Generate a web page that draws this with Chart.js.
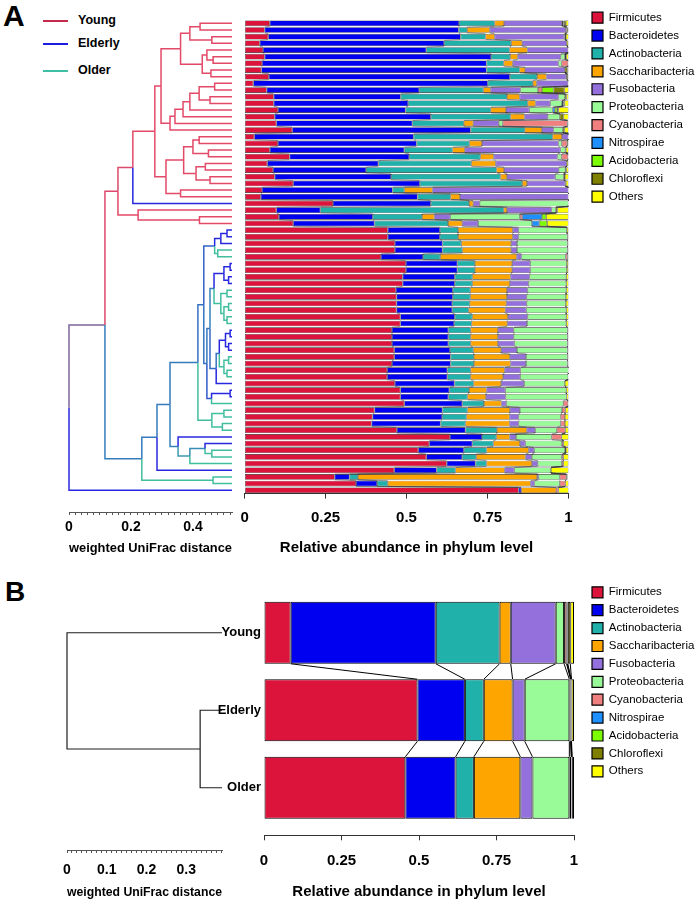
<!DOCTYPE html>
<html>
<head>
<meta charset="utf-8">
<script src="https://cdn.jsdelivr.net/npm/chart.js@4.4.1/dist/chart.umd.min.js"></script>
<style>
	body { margin: 0; background: #fff; font-family: 'Liberation Sans', Arial, sans-serif; }
	#page { position: relative; width: 700px; height: 904px; overflow: hidden; }
	canvas { position: absolute; }
	.panel { position: absolute; font-weight: bold; color: #000; }
	.key { position: absolute; left: 43px; height: 14px; line-height: 14px; font-size: 12.5px; font-weight: bold; color: #000; white-space: nowrap; }
	.key span { display: inline-block; width: 25px; height: 2px; vertical-align: middle; margin-right: 10px; }
</style>
</head>
<body>
<div id="page">
	<div class="panel" style="left:3px;top:1px;font-size:30px;line-height:30px">A</div>
	<div class="key" style="top:13px"><span style="background:#c42a4c"></span>Young</div>
	<div class="key" style="top:36px"><span style="background:#1c1ce0"></span>Elderly</div>
	<div class="key" style="top:63px"><span style="background:#3fc0a4"></span>Older</div>
	<canvas id="treeA" width="240" height="560" style="left:0;top:0"></canvas>
	<canvas id="barA" width="470" height="560" style="left:230px;top:0"></canvas>
	<div class="panel" style="left:5px;top:578px;font-size:28px;line-height:28px">B</div>
	<canvas id="treeB" width="262" height="344" style="left:0;top:560px"></canvas>
	<canvas id="barB" width="500" height="344" style="left:200px;top:560px"></canvas>
</div>
<script>
// Phyla, in stacking order.
const phyla = [ 'Firmicutes', 'Bacteroidetes', 'Actinobacteria', 'Saccharibacteria', 'Fusobacteria',
	'Proteobacteria', 'Cyanobacteria', 'Nitrospirae', 'Acidobacteria', 'Chloroflexi', 'Others' ];
const phylumColors = [ '#dc143c', '#0000f0', '#20b2aa', '#ffa500', '#9370db',
	'#98fb98', '#f08080', '#1e90ff', '#7cfc00', '#808000', '#ffff00' ];

const groupNames = [ 'Young', 'Elderly', 'Older' ];
const groupRgb = { Y: [ 226, 74, 104 ], E: [ 40, 40, 225 ], O: [ 64, 190, 160 ] };

// Panel A: group of each sample, top to bottom (Y = Young, E = Elderly, O = Older).
const groupsA = [
	'Y', 'Y', 'Y', 'Y', 'Y', 'Y', 'Y', 'Y', 'Y', 'Y',
	'Y', 'Y', 'Y', 'Y', 'Y', 'Y', 'Y', 'Y', 'Y', 'Y',
	'Y', 'Y', 'Y', 'Y', 'Y', 'Y', 'Y', 'E', 'Y', 'Y',
	'Y', 'E', 'E', 'E', 'O', 'O', 'E', 'E', 'E', 'E',
	'O', 'O', 'O', 'O', 'O', 'O', 'E', 'E', 'E', 'E',
	'O', 'O', 'O', 'O', 'E', 'E', 'E', 'O', 'O', 'O',
	'O', 'O', 'E', 'E', 'O', 'O', 'O', 'E', 'O', 'O',
	'E' ];

// Panel A clustering: [distance from root, left, right]; plain numbers are samples.
const treeA =
	[ 0,
		[ 0.116,
			[ 0.158,
				[ 0.206,
					[ 0.277,
						[ 0.297,
							[ 0.36,
								[ 0.39, [ 0.423, 0, 1 ], [ 0.461, 2, 3 ] ],
								[ 0.43, [ 0.445, 4, [ 0.465, 5, 6 ] ], [ 0.458, 7, 8 ] ] ],
							[ 0.326, [ 0.342, [ 0.368, [ 0.39, [ 0.42, [ 0.47, 9, 10 ], [ 0.455, 11, 12 ] ], 13 ], 14 ], 15 ], 16 ] ],
						[ 0.313,
							[ 0.37, [ 0.4, [ 0.42, 17, 18 ], [ 0.45, 19, 20 ] ], [ 0.41, [ 0.44, 21, 22 ], [ 0.455, 23, 24 ] ] ],
							[ 0.36, 25, 26 ] ] ],
					27 ],
				[ 0.223, 28, [ 0.421, 29, 30 ] ] ],
			[ 0.235,
				[ 0.284,
					[ 0.326,
						[ 0.416,
							[ 0.435,
								[ 0.47, [ 0.49, [ 0.51, 31, 32 ], 33 ], [ 0.48, 34, 35 ] ],
								[ 0.445,
									[ 0.455,
										[ 0.468, [ 0.5, [ 0.52, 36, 37 ], [ 0.515, 38, 39 ] ], [ 0.49, [ 0.51, 40, 41 ], [ 0.5, [ 0.515, 42, 43 ], [ 0.51, 44, 45 ] ] ] ],
										[ 0.475, [ 0.485, [ 0.505, [ 0.52, 46, 47 ], [ 0.515, 48, 49 ] ], [ 0.5, [ 0.515, 50, 51 ], [ 0.51, 52, 53 ] ] ], 54 ] ],
									[ 0.46, [ 0.52, 55, 56 ], 57 ] ] ],
							[ 0.461, [ 0.5, 58, 59 ], [ 0.495, 60, 61 ] ] ],
						[ 0.352, 62, [ 0.39, [ 0.439, 63, [ 0.461, 64, 65 ] ], 66 ] ] ],
					67 ],
				[ 0.465, 68, 69 ] ] ],
		70 ];
const treeLeafA = 0.526;

// Panel A relative abundance per sample.
const firmicutesA = [
	0.078, 0.062, 0.073, 0.047, 0.057, 0.062, 0.054, 0.052, 0.075, 0.027,
	0.068, 0.090, 0.090, 0.103, 0.093, 0.098, 0.147, 0.030, 0.103, 0.078,
	0.139, 0.070, 0.088, 0.093, 0.150, 0.054, 0.050, 0.273, 0.098, 0.106,
	0.150, 0.442, 0.442, 0.464, 0.464, 0.421, 0.498, 0.498, 0.488, 0.488,
	0.467, 0.469, 0.469, 0.469, 0.481, 0.481, 0.455, 0.455, 0.455, 0.462,
	0.462, 0.455, 0.440, 0.440, 0.464, 0.481, 0.481, 0.493, 0.401, 0.395,
	0.392, 0.470, 0.634, 0.570, 0.536, 0.561, 0.624, 0.462, 0.278, 0.344,
	0.846 ];
const bacteroidetesA = [
	0.584, 0.599, 0.594, 0.569, 0.504, 0.699, 0.693, 0.695, 0.744, 0.724,
	0.471, 0.392, 0.415, 0.394, 0.482, 0.420, 0.551, 0.492, 0.428, 0.415,
	0.369, 0.343, 0.287, 0.359, 0.391, 0.403, 0.484, 0.302, 0.136, 0.290,
	0.251, 0.161, 0.161, 0.147, 0.147, 0.130, 0.159, 0.159, 0.161, 0.161,
	0.176, 0.174, 0.172, 0.172, 0.168, 0.166, 0.174, 0.174, 0.174, 0.172,
	0.174, 0.181, 0.186, 0.186, 0.184, 0.151, 0.148, 0.179, 0.210, 0.215,
	0.213, 0.212, 0.099, 0.133, 0.141, 0.111, 0.089, 0.131, 0.046, 0.065,
	0.008 ];
const actinobacteriaA = [
	0.110, 0.026, 0.077, 0.207, 0.257, 0.059, 0.053, 0.102, 0.084, 0.139,
	0.198, 0.328, 0.369, 0.263, 0.246, 0.159, 0.167, 0.429, 0.163, 0.149,
	0.220, 0.287, 0.403, 0.338, 0.316, 0.036, 0.102, 0.118, 0.566, 0.152,
	0.227, 0.056, 0.056, 0.058, 0.061, 0.053, 0.054, 0.054, 0.054, 0.054,
	0.054, 0.054, 0.054, 0.051, 0.054, 0.054, 0.069, 0.069, 0.069, 0.072,
	0.072, 0.072, 0.072, 0.072, 0.059, 0.061, 0.059, 0.067, 0.077, 0.075,
	0.077, 0.097, 0.044, 0.065, 0.070, 0.043, 0.034, 0.058, 0.026, 0.033,
	0 ];
const saccharibacteriaA = [
	0.029, 0.070, 0.028, 0.034, 0.055, 0.023, 0.028, 0.017, 0.029, 0.012,
	0.023, 0.039, 0.024, 0.047, 0.043, 0.029, 0.053, 0.029, 0.039, 0.038,
	0.041, 0.075, 0.023, 0.020, 0.015, 0.087, 0.029, 0.013, 0.010, 0.038,
	0.044, 0.169, 0.169, 0.154, 0.151, 0.236, 0.115, 0.115, 0.118, 0.116,
	0.113, 0.113, 0.113, 0.113, 0.110, 0.110, 0.084, 0.084, 0.084, 0.086,
	0.111, 0.113, 0.105, 0.100, 0.085, 0.054, 0.057, 0.054, 0.131, 0.133,
	0.136, 0.092, 0.041, 0.082, 0.130, 0.152, 0.140, 0.152, 0.553, 0.441,
	0.108 ];
const fusobacteriaA = [
	0.179, 0.235, 0.215, 0.138, 0.126, 0.133, 0.141, 0.123, 0.061, 0.097,
	0.092, 0.120, 0.046, 0.072, 0.072, 0.079, 0.036, 0.020, 0.236, 0.295,
	0.197, 0.220, 0.169, 0.149, 0.118, 0.420, 0.335, 0.020, 0.138, 0.049,
	0.049, 0.018, 0.018, 0.018, 0.018, 0.015, 0.056, 0.056, 0.059, 0.058,
	0.064, 0.061, 0.063, 0.065, 0.061, 0.061, 0.049, 0.049, 0.051, 0.049,
	0.050, 0.048, 0.049, 0.053, 0.071, 0.058, 0.061, 0.015, 0.031, 0.028,
	0.028, 0.026, 0.020, 0.017, 0.017, 0.020, 0.018, 0.030, 0.005, 0.012,
	0 ];
const proteobacteriaA = [
	0.004, 0.002, 0.002, 0, 0, 0.013, 0.010, 0, 0.003, 0,
	0.054, 0.020, 0.036, 0.072, 0.037, 0.012, 0.029, 0, 0.010, 0.015,
	0.013, 0, 0.020, 0.026, 0, 0, 0, 0.274, 0.013, 0.215,
	0.166, 0.149, 0.151, 0.156, 0.156, 0.136, 0.113, 0.113, 0.113, 0.116,
	0.119, 0.121, 0.121, 0.123, 0.119, 0.121, 0.166, 0.166, 0.164, 0.156,
	0.128, 0.128, 0.148, 0.148, 0.126, 0.188, 0.188, 0.176, 0.130, 0.130,
	0.130, 0.067, 0.110, 0.113, 0.095, 0.092, 0.074, 0.113, 0.065, 0.078,
	0 ];
const cyanobacteriaA = [
	0.002, 0, 0, 0, 0, 0, 0.020, 0, 0, 0,
	0.012, 0, 0, 0, 0, 0.200, 0, 0, 0.017, 0,
	0.020, 0, 0, 0, 0, 0, 0, 0, 0, 0.007,
	0, 0, 0, 0, 0, 0.006, 0, 0, 0, 0,
	0, 0, 0, 0, 0, 0, 0, 0, 0, 0,
	0, 0, 0, 0, 0, 0, 0, 0.015, 0.010, 0.013,
	0.013, 0.026, 0.031, 0.005, 0.003, 0.005, 0.005, 0, 0.020, 0.017,
	0.007 ];
const nitrospiraeA = [
	0, 0, 0, 0, 0, 0, 0, 0, 0, 0,
	0, 0, 0.004, 0.007, 0, 0, 0, 0, 0, 0,
	0, 0, 0, 0, 0, 0, 0, 0, 0, 0.061,
	0.023, 0, 0, 0, 0, 0, 0, 0, 0, 0,
	0, 0, 0, 0, 0, 0, 0, 0, 0, 0,
	0, 0, 0, 0, 0, 0, 0, 0, 0, 0,
	0, 0, 0, 0, 0, 0, 0, 0, 0, 0,
	0 ];
const acidobacteriaA = [
	0, 0, 0, 0, 0, 0, 0, 0, 0, 0,
	0.036, 0, 0, 0.007, 0, 0, 0, 0, 0, 0,
	0, 0, 0, 0, 0, 0, 0, 0, 0, 0.013,
	0.024, 0, 0, 0, 0, 0, 0, 0, 0, 0,
	0, 0, 0, 0, 0, 0, 0, 0, 0, 0,
	0, 0, 0, 0, 0, 0, 0, 0, 0, 0,
	0, 0, 0, 0, 0, 0, 0, 0, 0, 0,
	0 ];
const chloroflexiA = [
	0.006, 0.002, 0.003, 0, 0, 0.004, 0, 0.008, 0, 0,
	0.033, 0.005, 0.004, 0.004, 0.012, 0, 0.005, 0, 0, 0.002,
	0, 0, 0.003, 0.004, 0.002, 0, 0, 0, 0.005, 0,
	0, 0, 0, 0, 0, 0, 0, 0, 0, 0,
	0, 0, 0, 0, 0, 0, 0, 0, 0, 0,
	0, 0, 0, 0, 0, 0, 0, 0, 0, 0,
	0, 0, 0, 0, 0, 0, 0, 0, 0, 0,
	0 ];
const othersA = [
	0.008, 0.004, 0.008, 0.005, 0.001, 0.007, 0.001, 0.003, 0.004, 0.001,
	0.013, 0.006, 0.012, 0.031, 0.015, 0.003, 0.012, 0, 0.004, 0.008,
	0.001, 0.005, 0.007, 0.011, 0.008, 0, 0, 0, 0.034, 0.069,
	0.066, 0.005, 0.003, 0.003, 0.003, 0.003, 0.005, 0.005, 0.007, 0.007,
	0.007, 0.008, 0.008, 0.007, 0.007, 0.007, 0.003, 0.003, 0.003, 0.003,
	0.003, 0.003, 0, 0.001, 0.011, 0.007, 0.006, 0.001, 0.010, 0.011,
	0.011, 0.010, 0.021, 0.015, 0.008, 0.016, 0.016, 0.054, 0.004, 0.010,
	0.031 ];
const seriesA = [ firmicutesA, bacteroidetesA, actinobacteriaA, saccharibacteriaA, fusobacteriaA,
	proteobacteriaA, cyanobacteriaA, nitrospiraeA, acidobacteriaA, chloroflexiA, othersA ];

// Panel B: mean abundance per group, in phyla order.
const youngB = [ 0.086, 0.468, 0.206, 0.036, 0.145, 0.027, 0.008, 0.002, 0.002, 0.008, 0.012 ];
const elderlyB = [ 0.495, 0.153, 0.061, 0.093, 0.039, 0.144, 0.004, 0.001, 0.001, 0.001, 0.008 ];
const olderB = [ 0.456, 0.162, 0.059, 0.150, 0.039, 0.119, 0.006, 0.001, 0.001, 0.001, 0.006 ];
const treeB = [ 0, 0, [ 0.335, 1, 2 ] ];
const treeLeafB = 0.39;

Chart.defaults.font.family = "'Liberation Sans', Arial, sans-serif";
Chart.defaults.color = '#000';

function rgbString( c ) {
	return 'rgb(' + c.map( Math.round ).join( ',' ) + ')';
}

// Walk the tree and return elbow segments; each branch takes the mean colour of its leaves.
function treeSegments( tree, leafX, leafColor ) {
	const segments = [];
	function walk( node ) {
		if ( typeof node === 'number' ) {
			return { x: leafX, y: node, rgb: leafColor( node ), n: 1 };
		}
		const kids = [ walk( node[1] ), walk( node[2] ) ];
		const y = ( kids[0].y + kids[1].y ) / 2;
		const n = kids[0].n + kids[1].n;
		const rgb = [ 0, 1, 2 ].map( c => ( kids[0].rgb[c] * kids[0].n + kids[1].rgb[c] * kids[1].n ) / n );
		kids.forEach( k => {
			segments.push( {
				points: [ { x: k.x, y: k.y }, { x: node[0], y: k.y }, { x: node[0], y: y } ],
				rgb: k.rgb
			} );
		} );
		return { x: node[0], y: y, rgb: rgb, n: n };
	}
	walk( tree );
	return segments;
}

function treeDatasets( segments, width ) {
	return segments.map( s => ( {
		data: s.points,
		showLine: true,
		borderColor: rgbString( s.rgb ),
		borderWidth: width,
		pointRadius: 0,
		pointHoverRadius: 0,
		clip: 4
	} ) );
}

// Distance ruler under a tree.
function rulerAxis( max, step, labelEvery, height, pad ) {
	return {
		type: 'linear',
		min: 0,
		max: max,
		ticks: {
			stepSize: step,
			maxTicksLimit: 200,
			includeBounds: false,
			autoSkip: false,
			maxRotation: 0,
			padding: pad,
			font: { size: 14, weight: 'bold' },
			callback: v => Math.abs( v / labelEvery - Math.round( v / labelEvery ) ) < 1e-6 ? String( Math.round( v * 100 ) / 100 ) : ''
		},
		grid: { drawOnChartArea: false, tickLength: 3, color: '#555' },
		border: { color: '#555' },
		title: {
			display: true,
			text: 'weighted UniFrac distance',
			font: { size: 13, weight: 'bold' },
			padding: { top: 0, bottom: 4 }
		},
		afterFit: s => { s.height = height; }
	};
}

function abundanceAxis( height, pad ) {
	return {
		stacked: true,
		min: 0,
		max: 1,
		ticks: {
			stepSize: 0.25,
			padding: pad,
			maxRotation: 0,
			font: { size: 15, weight: 'bold' },
			callback: v => String( v )
		},
		grid: { drawOnChartArea: false, tickLength: 5, color: '#333' },
		border: { color: '#333' },
		title: {
			display: true,
			text: 'Relative abundance in phylum level',
			font: { size: 15, weight: 'bold' },
			padding: { top: 2, bottom: 3 }
		},
		afterFit: s => { s.height = height; }
	};
}

// Empty axis used only to reserve room in the layout.
function spacer( position, size ) {
	return {
		type: 'linear',
		position: position,
		grid: { display: false },
		border: { display: false },
		ticks: { display: false },
		afterFit: s => {
			if ( position === 'top' ) {
				s.height = size;
			} else {
				s.width = size;
			}
		}
	};
}

function phylumLegend() {
	return {
		position: 'right',
		align: 'start',
		maxWidth: 114.4,
		labels: {
			boxWidth: 11,
			boxHeight: 11,
			padding: 6.4,
			font: { size: 11.5 },
			generateLabels: chart => Chart.defaults.plugins.legend.labels.generateLabels( chart )
				.map( item => Object.assign( item, { lineWidth: 1.2, strokeStyle: '#000' } ) )
		}
	};
}

// Lines joining each phylum boundary of one bar to the same boundary on the next bar.
const connectorPlugin = {
	id: 'connectors',
	afterDatasetsDraw( chart, args, opts ) {
		const ctx = chart.ctx;
		const metas = chart.getSortedVisibleDatasetMetas();
		ctx.save();
		ctx.strokeStyle = opts.color;
		ctx.lineWidth = opts.width;
		ctx.beginPath();
		metas.slice( 0, -1 ).forEach( meta => {
			for ( let i = 0; i < meta.data.length - 1; i++ ) {
				const a = meta.data[i], b = meta.data[i + 1];
				ctx.moveTo( a.x, a.y + a.height / 2 );
				ctx.lineTo( b.x, b.y - b.height / 2 );
			}
		} );
		ctx.stroke();
		ctx.restore();
	}
};

const common = {
	responsive: false,
	animation: false,
	devicePixelRatio: 1,
	events: []
};

// Panel A tree.
new Chart( 'treeA', {
	type: 'scatter',
	data: { datasets: treeDatasets( treeSegments( treeA, treeLeafA, k => groupRgb[ groupsA[k] ] ), 1.5 ) },
	options: Object.assign( {}, common, {
		layout: { padding: { left: 69, right: 8, top: 20, bottom: 0 } },
		plugins: { legend: { display: false }, tooltip: { enabled: false } },
		scales: {
			x: rulerAxis( treeLeafA, 0.02, 0.2, 48, 3.6 ),
			y: { type: 'linear', reverse: true, min: -0.5, max: 73.26, display: false }
		}
	} )
} );

// Panel A bars.
new Chart( 'barA', {
	type: 'bar',
	data: {
		labels: groupsA.map( ( g, i ) => g + ( i + 1 ) ),
		datasets: phyla.map( ( name, j ) => ( {
			label: name,
			data: seriesA[j],
			backgroundColor: phylumColors[j],
			borderColor: '#222',
			borderWidth: 0.6,
			borderSkipped: false,
			barPercentage: 0.86,
			categoryPercentage: 1
		} ) )
	},
	options: Object.assign( {}, common, {
		indexAxis: 'y',
		layout: { padding: { left: 12, right: 0, top: 5.5, bottom: 0 } },
		plugins: {
			legend: phylumLegend(),
			tooltip: { enabled: false },
			connectors: { color: '#333', width: 0.5 }
		},
		scales: {
			x: abundanceAxis( 66.4, 10.4 ),
			y: { stacked: true, display: false },
			xt: spacer( 'top', 14.5 ),
			yr: spacer( 'right', 17.1 )
		}
	} ),
	plugins: [ connectorPlugin ]
} );

// Panel B tree.
new Chart( 'treeB', {
	type: 'scatter',
	data: { datasets: treeDatasets( treeSegments( treeB, treeLeafB, () => [ 30, 30, 30 ] ), 1.2 ) },
	options: Object.assign( {}, common, {
		layout: { padding: { left: 67, right: 40, top: 34, bottom: 0 } },
		plugins: { legend: { display: false }, tooltip: { enabled: false } },
		scales: {
			x: rulerAxis( treeLeafB, 0.0125, 0.1, 54, 8.6 ),
			y: { type: 'linear', reverse: true, min: -0.5, max: 2.803, display: false }
		}
	} )
} );

// Panel B bars.
new Chart( 'barB', {
	type: 'bar',
	data: {
		datasets: phyla.map( ( name, j ) => ( {
			label: name,
			data: [ youngB[j], elderlyB[j], olderB[j] ].map( ( v, i ) => ( { x: v, y: i } ) ),
			backgroundColor: phylumColors[j],
			borderColor: '#000',
			borderWidth: 1,
			borderSkipped: false,
			barPercentage: 0.8,
			categoryPercentage: 1
		} ) )
	},
	options: Object.assign( {}, common, {
		indexAxis: 'y',
		layout: { padding: { left: 0, right: 0, top: 20.15, bottom: 0 } },
		plugins: {
			legend: phylumLegend(),
			tooltip: { enabled: false },
			connectors: { color: '#000', width: 1 }
		},
		scales: {
			x: abundanceAxis( 68.7, 11.7 ),
			y: {
				type: 'linear',
				position: 'left',
				reverse: true,
				stacked: true,
				offset: false,
				min: -0.5,
				max: 2.613,
				afterBuildTicks: s => { s.ticks = groupNames.map( ( n, i ) => ( { value: i } ) ); },
				ticks: { callback: v => groupNames[v], padding: 3, font: { size: 13, weight: 'bold' } },
				grid: { display: false, drawTicks: false, offset: false },
				border: { display: false },
				afterFit: s => { s.width = 64; }
			},
			xt: spacer( 'top', 13.85 ),
			yr: spacer( 'right', 11.6 )
		}
	} ),
	plugins: [ connectorPlugin ]
} );
</script>
</body>
</html>
